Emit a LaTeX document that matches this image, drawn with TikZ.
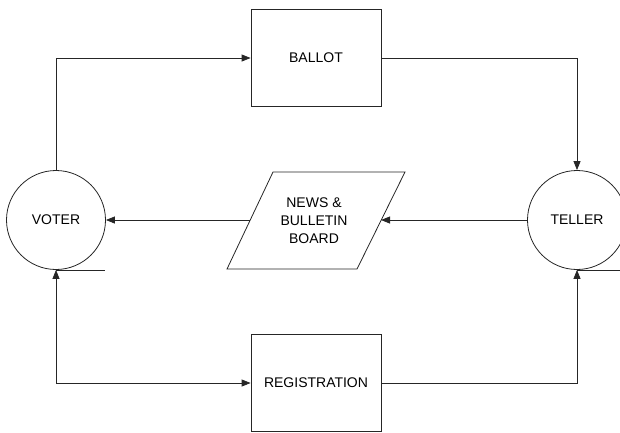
\documentclass[tikz,border=0pt]{standalone}
\usepackage{fontspec}
\setmainfont{Liberation Sans}
\usetikzlibrary{arrows.meta}
\begin{document}
\begin{tikzpicture}[x=1pt,y=-1pt,
  every node/.style={font=\fontsize{14}{18}\selectfont},
  line/.style={draw=black!85, line width=0.8pt},
  flow/.style={line, -{Triangle[length=9pt,width=7pt]}},
  biflow/.style={line, {Triangle[length=9pt,width=7pt]}-{Triangle[length=9pt,width=7pt]}},
  entity/.style={line, circle, minimum size=99pt, inner sep=0pt},
  process/.style={line, rectangle, minimum width=130pt, minimum height=97pt, inner sep=0pt}]
\useasboundingbox (0,0) rectangle (620,432);
\clip (0,0) rectangle (620,432);

% entities
\node[entity] (voter) at (56,220) {VOTER};
\node[entity] (teller) at (577,220) {TELLER};

% processes
\node[process] (ballot) at (316,58) {BALLOT};
\node[process] (registration) at (316,383) {REGISTRATION};

% news & bulletin board (parallelogram)
\coordinate (nTL) at (273,172);
\coordinate (nTR) at (405,172);
\coordinate (nBR) at (357,269);
\coordinate (nBL) at (227,269);
\draw[line] (nTL) -- (nTR) -- (nBR) -- (nBL) -- cycle;
\node[align=center] (news) at (314,221) {NEWS \&\\BULLETIN\\BOARD};
\coordinate (newsR) at (381,220);
\coordinate (newsL) at (250,220);

% tangent bars under the entities
\draw[line] (voter.south) -- ++(49,0);
\draw[line] (teller.south) -- ++(50,0);

% data flows
\draw[flow] (voter.north) |- (ballot.west);
\draw[flow] (ballot.east) -| (teller.north);
\draw[flow] (teller.west) -- (newsR);
\draw[flow] (newsL) -- (voter.east);
\draw[biflow] (registration.west) -| (voter.south);
\draw[flow] (registration.east) -| (teller.south);
\end{tikzpicture}
\end{document}
